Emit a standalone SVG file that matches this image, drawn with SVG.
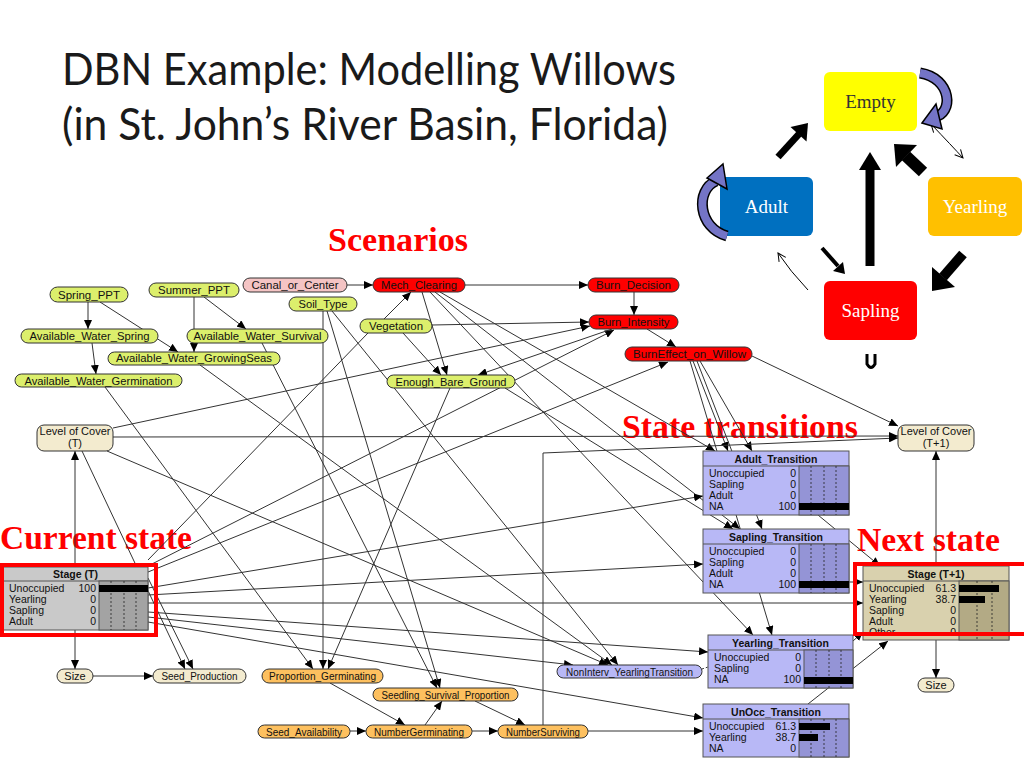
<svg xmlns="http://www.w3.org/2000/svg" width="1024" height="768" viewBox="0 0 1024 768">
<style>
.title{font-family:Lato,"Open Sans","Liberation Sans",sans-serif;font-size:44px;fill:#1a1a1a}
.sec{font-family:"Liberation Serif","Times New Roman",serif;font-size:33px;font-weight:bold;fill:#ff0000}
.st{font-family:"Liberation Serif","Times New Roman",serif;font-size:19px;text-anchor:middle}
.e{fill:none;stroke:#333;stroke-width:1}
.pill{stroke:#333;stroke-width:1}
.lbl{font-family:"Liberation Sans",Arial,sans-serif;font-size:11px;fill:#111;text-anchor:middle}
.g{fill:#dcef6c}.pk{fill:#f4c4c4}.rd{fill:#ff0000}.bg{fill:#f3ebcf}.or{fill:#fdc05f}.lv{fill:#b8b8f6}
.box{stroke:#555;stroke-width:1}
.bt{font-family:"Liberation Sans",Arial,sans-serif;font-size:10.5px;font-weight:bold;fill:#111;text-anchor:middle}
.row{font-family:"Liberation Sans",Arial,sans-serif;font-size:10.5px;fill:#111}
.val{font-family:"Liberation Sans",Arial,sans-serif;font-size:10.5px;fill:#111;text-anchor:end}
.dot{stroke:#222;stroke-width:0.8;stroke-dasharray:2,2}
.hl{fill:none;stroke:#ff0000;stroke-width:4}
.thick{fill:#000;stroke:none}
.loop{fill:none;stroke:#000;stroke-width:11}
.loopi{fill:none;stroke:#7474c6;stroke-width:8}
</style>
<defs>
<marker id="ah" markerUnits="userSpaceOnUse" markerWidth="9" markerHeight="8" refX="9" refY="4" orient="auto">
<path d="M0,0 L9,4 L0,8 z" fill="#000"/>
</marker>
<marker id="oa" markerUnits="userSpaceOnUse" markerWidth="10" markerHeight="10" refX="9" refY="5" orient="auto">
<path d="M1,1 L9,5 L1,9" fill="none" stroke="#000" stroke-width="1"/>
</marker>
<marker id="oas" markerUnits="userSpaceOnUse" markerWidth="10" markerHeight="10" refX="1" refY="5" orient="auto">
<path d="M9,1 L1,5 L9,9" fill="none" stroke="#000" stroke-width="1"/>
</marker>
</defs>
<rect width="1024" height="768" fill="#fff"/>

<text class="title" x="62" y="85" textLength="614" lengthAdjust="spacingAndGlyphs">DBN Example: Modelling Willows</text>
<text class="title" x="62" y="140" textLength="606" lengthAdjust="spacingAndGlyphs">(in St. John’s River Basin, Florida)</text>

<g id="lifecycle">
<g id="state-empty"><rect x="824" y="72" width="93" height="59" rx="6" fill="#ffff00"/><text class="st" x="870.5" y="108" fill="#333">Empty</text></g>
<g id="state-adult"><rect x="720" y="177" width="93" height="59" rx="6" fill="#0070c0"/><text class="st" x="766.5" y="213" fill="#fff">Adult</text></g>
<g id="state-yearling"><rect x="928" y="177" width="94" height="59" rx="6" fill="#ffc000"/><text class="st" x="975" y="213" fill="#fff">Yearling</text></g>
<g id="state-sapling"><rect x="824" y="281" width="93" height="59" rx="6" fill="#ff0000"/><text class="st" x="870.5" y="317" fill="#fff">Sapling</text></g>
<g id="lifecycle-arrows">
<line x1="778" y1="157" x2="799" y2="134" stroke="#000" stroke-width="7"/>
<polygon class="thick" points="808,123 806.5,141.5 790.5,127"/>
<line x1="870" y1="266" x2="870" y2="168" stroke="#000" stroke-width="9"/>
<polygon class="thick" points="870,152 881,170 859,170"/>
<line x1="923" y1="172" x2="906" y2="156" stroke="#000" stroke-width="12"/>
<polygon class="thick" points="894,144 917,145 896,167"/>
<line x1="963" y1="254" x2="943" y2="277" stroke="#000" stroke-width="10"/>
<polygon class="thick" points="932,291 955,287 932,267"/>
<line x1="822" y1="248" x2="838" y2="266" stroke="#000" stroke-width="4"/>
<polygon class="thick" points="845,274 843,262 833,271"/>
<path d="M931 124 Q952 146 963 158" fill="none" stroke="#000" stroke-width="1" marker-start="url(#oas)" marker-end="url(#oa)"/>
<path d="M808 290 Q790 271 778 253" fill="none" stroke="#000" stroke-width="1" marker-end="url(#oa)"/>
<path class="loop" d="M920 73 C952 78 954 114 934 117"/>
<path class="loopi" d="M920 73 C952 78 954 114 934 117"/>
<polygon points="922,123 936,104 942,129" fill="#7474c6" stroke="#000" stroke-width="1.5"/>
<path class="loop" d="M727 236 C698 228 695 190 716 181"/>
<path class="loopi" d="M727 236 C698 228 695 190 716 181"/>
<polygon points="723,164 727,189 707,178" fill="#7474c6" stroke="#000" stroke-width="1.5"/>
<path d="M867 354 L867 364 Q871 371 875 364 L875 354" fill="none" stroke="#000" stroke-width="3"/>
</g>
</g>

<text class="sec" x="328" y="251" textLength="140" lengthAdjust="spacingAndGlyphs">Scenarios</text>
<text class="sec" x="622" y="438" textLength="236" lengthAdjust="spacingAndGlyphs">State transitions</text>
<text class="sec" x="0" y="549" textLength="192" lengthAdjust="spacingAndGlyphs">Current state</text>
<text class="sec" x="857" y="551" textLength="143" lengthAdjust="spacingAndGlyphs">Next state</text>

<g id="connectors">
<path class="e" d="M88 302 L88 329" marker-end="url(#ah)"/>
<path class="e" d="M100 302 L178 352" marker-end="url(#ah)"/>
<path class="e" d="M92 343 L96 374" marker-end="url(#ah)"/>
<path class="e" d="M204 297 L246 329" marker-end="url(#ah)"/>
<path class="e" d="M194 297 L194 352" marker-end="url(#ah)"/>
<path class="e" d="M347 285 L373 285" marker-end="url(#ah)"/>
<path class="e" d="M465 285 L588 285" marker-end="url(#ah)"/>
<path class="e" d="M384 319 L411 292" marker-end="url(#ah)"/>
<path class="e" d="M403 333 L441 375" marker-end="url(#ah)"/>
<path class="e" d="M422 292 L447 375" marker-end="url(#ah)"/>
<path class="e" d="M634 292 L634 315" marker-end="url(#ah)"/>
<path class="e" d="M647 329 L676 347" marker-end="url(#ah)"/>
<path class="e" d="M432 325 L589 322" marker-end="url(#ah)"/>
<path class="e" d="M113 428 L590 326" marker-end="url(#ah)"/>
<path class="e" d="M148 566 L614 330" marker-end="url(#ah)"/>
<path class="e" d="M148 572 L668 362" marker-end="url(#ah)"/>
<path class="e" d="M612 329 L478 375" marker-end="url(#ah)"/>
<path class="e" d="M440 292 L715 451" marker-end="url(#ah)"/>
<path class="e" d="M430 292 L753 635" marker-end="url(#ah)"/>
<path class="e" d="M435 292 L740 529" marker-end="url(#ah)"/>
<path class="e" d="M505 388 L733 529" marker-end="url(#ah)"/>
<path class="e" d="M693 361 L728 451" marker-end="url(#ah)"/>
<path class="e" d="M697 361 L762 529" marker-end="url(#ah)"/>
<path class="e" d="M690 361 L772 635" marker-end="url(#ah)"/>
<path class="e" d="M700 361 L752 451" marker-end="url(#ah)"/>
<path class="e" d="M752 356 L898 426" marker-end="url(#ah)"/>
<path class="e" d="M113 437 L898 436" marker-end="url(#ah)"/>
<path class="e" d="M543 725 L543 453 L898 438" marker-end="url(#ah)"/>
<path class="e" d="M75 567 L75 451" marker-end="url(#ah)"/>
<path class="e" d="M75 630 L75 669" marker-end="url(#ah)"/>
<path class="e" d="M93 676 L153 676" marker-end="url(#ah)"/>
<path class="e" d="M82 451 L185 669" marker-end="url(#ah)"/>
<path class="e" d="M148 578 L193 669" marker-end="url(#ah)"/>
<path class="e" d="M105 387 L313 669" marker-end="url(#ah)"/>
<path class="e" d="M323 311 L323 669" marker-end="url(#ah)"/>
<path class="e" d="M450 388 L328 669" marker-end="url(#ah)"/>
<path class="e" d="M327 311 L440 688" marker-end="url(#ah)"/>
<path class="e" d="M262 343 L437 688" marker-end="url(#ah)"/>
<path class="e" d="M330 683 L405 725" marker-end="url(#ah)"/>
<path class="e" d="M350 731 L366 731" marker-end="url(#ah)"/>
<path class="e" d="M425 725 L442 701" marker-end="url(#ah)"/>
<path class="e" d="M472 731 L498 731" marker-end="url(#ah)"/>
<path class="e" d="M475 701 L525 725" marker-end="url(#ah)"/>
<path class="e" d="M588 731 L703 731" marker-end="url(#ah)"/>
<path class="e" d="M148 622 L703 718" marker-end="url(#ah)"/>
<path class="e" d="M148 612 L708 652" marker-end="url(#ah)"/>
<path class="e" d="M148 617 L573 665" marker-end="url(#ah)"/>
<path class="e" d="M148 603 L863 603" marker-end="url(#ah)"/>
<path class="e" d="M148 595 L703 564" marker-end="url(#ah)"/>
<path class="e" d="M148 588 L703 496" marker-end="url(#ah)"/>
<path class="e" d="M200 365 L612 665" marker-end="url(#ah)"/>
<path class="e" d="M332 311 L618 665" marker-end="url(#ah)"/>
<path class="e" d="M107 451 L608 665" marker-end="url(#ah)"/>
<path class="e" d="M148 560 L368 333"/>
<path class="e" d="M702 669 L708 667" stroke-dasharray="2,2"/>
<path class="e" d="M818 515 L880 566" marker-end="url(#ah)"/>
<path class="e" d="M849 582 L863 582" marker-end="url(#ah)"/>
<path class="e" d="M853 641 L863 632" marker-end="url(#ah)"/>
<path class="e" d="M808 704 L888 641" marker-end="url(#ah)"/>
<path class="e" d="M936 566 L936 451" marker-end="url(#ah)"/>
<path class="e" d="M936 640 L936 678" marker-end="url(#ah)"/>
</g>

<g id="n-spring-ppt"><rect class="pill g" x="50" y="287" width="78" height="15" rx="7.5"/><text class="lbl" x="89" y="298.5" textLength="62" lengthAdjust="spacingAndGlyphs">Spring_PPT</text></g>
<g id="n-summer-ppt"><rect class="pill g" x="149" y="283" width="90" height="14" rx="7"/><text class="lbl" x="194" y="294" textLength="72" lengthAdjust="spacingAndGlyphs">Summer_PPT</text></g>
<g id="n-canal"><rect class="pill pk" x="243" y="278" width="104" height="14" rx="7"/><text class="lbl" x="295" y="289" textLength="87" lengthAdjust="spacingAndGlyphs">Canal_or_Center</text></g>
<g id="n-soil"><rect class="pill g" x="289" y="297" width="68" height="14" rx="7"/><text class="lbl" x="323" y="308" textLength="49" lengthAdjust="spacingAndGlyphs">Soil_Type</text></g>
<g id="n-aw-spring"><rect class="pill g" x="21" y="329" width="137" height="14" rx="7"/><text class="lbl" x="89.5" y="340" textLength="120" lengthAdjust="spacingAndGlyphs">Available_Water_Spring</text></g>
<g id="n-aw-survival"><rect class="pill g" x="187" y="329" width="141" height="14" rx="7"/><text class="lbl" x="257.5" y="340" textLength="128" lengthAdjust="spacingAndGlyphs">Available_Water_Survival</text></g>
<g id="n-aw-growing"><rect class="pill g" x="108" y="352" width="172" height="13" rx="6.5"/><text class="lbl" x="194" y="362" textLength="156" lengthAdjust="spacingAndGlyphs">Available_Water_GrowingSeas</text></g>
<g id="n-aw-germ"><rect class="pill g" x="15" y="374" width="167" height="13" rx="6.5" stroke-width="2"/><text class="lbl" x="98.5" y="384.5" textLength="148" lengthAdjust="spacingAndGlyphs">Available_Water_Germination</text></g>
<g id="n-vegetation"><rect class="pill g" x="360" y="319" width="72" height="14" rx="7"/><text class="lbl" x="396" y="330" textLength="54" lengthAdjust="spacingAndGlyphs">Vegetation</text></g>
<g id="n-ebg"><rect class="pill g" x="387" y="375" width="128" height="13" rx="6.5"/><text class="lbl" x="451" y="385.5" textLength="111" lengthAdjust="spacingAndGlyphs">Enough_Bare_Ground</text></g>
<g id="n-mech"><rect class="pill rd" x="373" y="278" width="92" height="14" rx="7"/><text class="lbl" x="419" y="289" textLength="76" lengthAdjust="spacingAndGlyphs">Mech_Clearing</text></g>
<g id="n-burn-decision"><rect class="pill rd" x="588" y="278" width="91" height="14" rx="7"/><text class="lbl" x="633.5" y="289" textLength="75" lengthAdjust="spacingAndGlyphs">Burn_Decision</text></g>
<g id="n-burn-intensity"><rect class="pill rd" x="589" y="315" width="89" height="14" rx="7" stroke-width="2"/><text class="lbl" x="633.5" y="326" textLength="72" lengthAdjust="spacingAndGlyphs">Burn_Intensity</text></g>
<g id="n-burneffect"><rect class="pill rd" x="625" y="347" width="127" height="14" rx="7"/><text class="lbl" x="689.5" y="358" textLength="113" lengthAdjust="spacingAndGlyphs">BurnEffect_on_Willow</text></g>
<g id="n-loc-t"><rect class="pill bg" x="37" y="425" width="76" height="26" rx="7"/><text class="lbl" x="75" y="435" font-size="10">Level of Cover</text><text class="lbl" x="75" y="447" font-size="10">(T)</text></g>
<g id="n-loc-t1"><rect class="pill bg" x="898" y="425" width="76" height="26" rx="7"/><text class="lbl" x="936" y="435" font-size="10">Level of Cover</text><text class="lbl" x="936" y="447" font-size="10">(T+1)</text></g>
<g id="n-size-t"><rect class="pill bg" x="57" y="669" width="36" height="14" rx="7"/><text class="lbl" x="75" y="680">Size</text></g>
<g id="n-seed-prod"><rect class="pill bg" x="153" y="669" width="93" height="14" rx="7"/><text class="lbl" x="199.5" y="680" textLength="76" lengthAdjust="spacingAndGlyphs">Seed_Production</text></g>
<g id="n-size-t1"><rect class="pill bg" x="918" y="678" width="36" height="14" rx="7"/><text class="lbl" x="936" y="689">Size</text></g>
<g id="n-prop-germ"><rect class="pill or" x="262" y="669" width="121" height="14" rx="7"/><text class="lbl" x="322.5" y="680" textLength="107" lengthAdjust="spacingAndGlyphs">Proportion_Germinating</text></g>
<g id="n-seedling-surv"><rect class="pill or" x="373" y="688" width="145" height="13" rx="6.5"/><text class="lbl" x="445.5" y="698.5" textLength="128" lengthAdjust="spacingAndGlyphs">Seedling_Survival_Proportion</text></g>
<g id="n-seed-avail"><rect class="pill or" x="258" y="725" width="92" height="13" rx="6.5"/><text class="lbl" x="304" y="735.5" textLength="76" lengthAdjust="spacingAndGlyphs">Seed_Availability</text></g>
<g id="n-num-germ"><rect class="pill or" x="366" y="725" width="106" height="13" rx="6.5"/><text class="lbl" x="419" y="735.5" textLength="90" lengthAdjust="spacingAndGlyphs">NumberGerminating</text></g>
<g id="n-num-surv"><rect class="pill or" x="498" y="725" width="90" height="13" rx="6.5"/><text class="lbl" x="543" y="735.5" textLength="74" lengthAdjust="spacingAndGlyphs">NumberSurviving</text></g>
<g id="n-noninterv"><rect class="pill lv" x="557" y="665" width="145" height="13" rx="6.5"/><text class="lbl" x="629.5" y="675.5" textLength="127" lengthAdjust="spacingAndGlyphs">NonInterv_YearlingTransition</text></g>

<g id="n-stage-t">
<rect class="box" x="3" y="567" width="145" height="63" fill="#c9c9c9"/>
<line x1="3" y1="581" x2="148" y2="581" stroke="#555"/>
<rect x="99" y="581" width="49" height="49" fill="#a3a3a3" stroke="#555"/>
<line class="dot" x1="111" y1="581" x2="111" y2="630"/><line class="dot" x1="124" y1="581" x2="124" y2="630"/><line class="dot" x1="136" y1="581" x2="136" y2="630"/>
<rect x="99" y="585" width="49" height="7" fill="#000"/>
<text class="bt" x="75.5" y="578">Stage (T)</text>
<text class="row" x="9" y="592">Unoccupied</text><text class="val" x="96" y="592">100</text>
<text class="row" x="9" y="603">Yearling</text><text class="val" x="96" y="603">0</text>
<text class="row" x="9" y="614">Sapling</text><text class="val" x="96" y="614">0</text>
<text class="row" x="9" y="625">Adult</text><text class="val" x="96" y="625">0</text>
</g>

<g id="n-adult-tr">
<rect class="box" x="703" y="451" width="146" height="64" fill="#b8b8f6"/>
<line x1="703" y1="466" x2="849" y2="466" stroke="#555"/>
<rect x="799" y="466" width="50" height="49" fill="#9494d6" stroke="#555"/>
<line class="dot" x1="811" y1="466" x2="811" y2="515"/><line class="dot" x1="824" y1="466" x2="824" y2="515"/><line class="dot" x1="836" y1="466" x2="836" y2="515"/>
<rect x="799" y="503" width="50" height="7" fill="#000"/>
<text class="bt" x="776" y="462.5">Adult_Transition</text>
<text class="row" x="709" y="477">Unoccupied</text><text class="val" x="796" y="477">0</text>
<text class="row" x="709" y="488">Sapling</text><text class="val" x="796" y="488">0</text>
<text class="row" x="709" y="499">Adult</text><text class="val" x="796" y="499">0</text>
<text class="row" x="709" y="510">NA</text><text class="val" x="796" y="510">100</text>
</g>

<g id="n-sapling-tr">
<rect class="box" x="703" y="529" width="146" height="64" fill="#b8b8f6"/>
<line x1="703" y1="544" x2="849" y2="544" stroke="#555"/>
<rect x="799" y="544" width="50" height="49" fill="#9494d6" stroke="#555"/>
<line class="dot" x1="811" y1="544" x2="811" y2="593"/><line class="dot" x1="824" y1="544" x2="824" y2="593"/><line class="dot" x1="836" y1="544" x2="836" y2="593"/>
<rect x="799" y="581" width="50" height="7" fill="#000"/>
<text class="bt" x="776" y="540.5">Sapling_Transition</text>
<text class="row" x="709" y="555">Unoccupied</text><text class="val" x="796" y="555">0</text>
<text class="row" x="709" y="566">Sapling</text><text class="val" x="796" y="566">0</text>
<text class="row" x="709" y="577">Adult</text><text class="val" x="796" y="577">0</text>
<text class="row" x="709" y="588">NA</text><text class="val" x="796" y="588">100</text>
</g>

<g id="n-yearling-tr">
<rect class="box" x="708" y="635" width="145" height="53" fill="#b8b8f6"/>
<line x1="708" y1="650" x2="853" y2="650" stroke="#555"/>
<rect x="804" y="650" width="49" height="38" fill="#9494d6" stroke="#555"/>
<line class="dot" x1="816" y1="650" x2="816" y2="688"/><line class="dot" x1="829" y1="650" x2="829" y2="688"/><line class="dot" x1="841" y1="650" x2="841" y2="688"/>
<rect x="804" y="677" width="49" height="7" fill="#000"/>
<text class="bt" x="780.5" y="646.5">Yearling_Transition</text>
<text class="row" x="714" y="661">Unoccupied</text><text class="val" x="801" y="661">0</text>
<text class="row" x="714" y="672">Sapling</text><text class="val" x="801" y="672">0</text>
<text class="row" x="714" y="683">NA</text><text class="val" x="801" y="683">100</text>
</g>

<g id="n-unocc-tr">
<rect class="box" x="703" y="704" width="146" height="53" fill="#b8b8f6"/>
<line x1="703" y1="719" x2="849" y2="719" stroke="#555"/>
<rect x="799" y="719" width="50" height="38" fill="#9494d6" stroke="#555"/>
<line class="dot" x1="811" y1="719" x2="811" y2="757"/><line class="dot" x1="824" y1="719" x2="824" y2="757"/><line class="dot" x1="836" y1="719" x2="836" y2="757"/>
<rect x="799" y="723" width="31" height="7" fill="#000"/>
<rect x="799" y="734" width="19" height="7" fill="#000"/>
<text class="bt" x="776" y="715.5">UnOcc_Transition</text>
<text class="row" x="709" y="730">Unoccupied</text><text class="val" x="796" y="730">61.3</text>
<text class="row" x="709" y="741">Yearling</text><text class="val" x="796" y="741">38.7</text>
<text class="row" x="709" y="752">NA</text><text class="val" x="796" y="752">0</text>
</g>

<g id="n-stage-t1">
<rect class="box" x="863" y="566" width="146" height="74" fill="#d9d1ae"/>
<line x1="863" y1="581" x2="1009" y2="581" stroke="#555"/>
<rect x="959" y="581" width="50" height="59" fill="#b3aa85" stroke="#555"/>
<line class="dot" x1="977" y1="581" x2="977" y2="640"/><line class="dot" x1="992" y1="581" x2="992" y2="640"/>
<rect x="959" y="585" width="40" height="7" fill="#000"/>
<rect x="959" y="596" width="26" height="7" fill="#000"/>
<text class="bt" x="936" y="577.5">Stage (T+1)</text>
<text class="row" x="869" y="592">Unoccupied</text><text class="val" x="956" y="592">61.3</text>
<text class="row" x="869" y="603">Yearling</text><text class="val" x="956" y="603">38.7</text>
<text class="row" x="869" y="614">Sapling</text><text class="val" x="956" y="614">0</text>
<text class="row" x="869" y="625">Adult</text><text class="val" x="956" y="625">0</text>
<text class="row" x="869" y="636">Other</text><text class="val" x="956" y="636">0</text>
</g>

<rect class="hl" x="2" y="565" width="154" height="70"/>
<rect class="hl" x="855" y="564" width="200" height="70"/>
</svg>
